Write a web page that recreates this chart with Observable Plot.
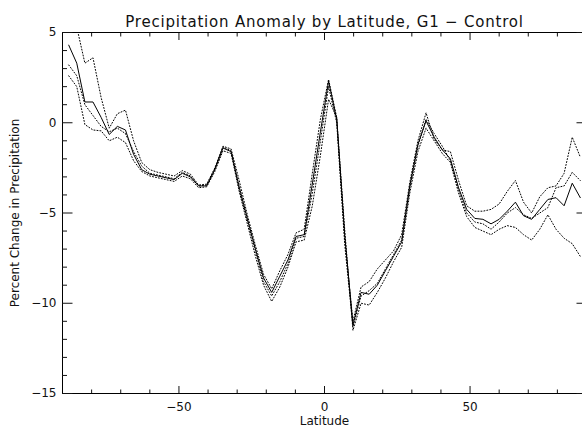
<!DOCTYPE html>
<html><head><meta charset="utf-8">
<script src="https://cdn.jsdelivr.net/npm/d3@7"></script>
<script src="https://cdn.jsdelivr.net/npm/@observablehq/plot@0.6"></script>
<style>
html,body{margin:0;padding:0;background:#fff;overflow:hidden;}
#chart svg{font-family:"DejaVu Sans",sans-serif;}
</style></head><body><div id="chart"></div>
<script>
const latitudes = [-87.86,-85.10,-82.31,-79.53,-76.74,-73.95,-71.16,-68.37,-65.58,-62.79,-60.00,-57.21,-54.42,-51.63,-48.84,-46.05,-43.25,-40.46,-37.67,-34.88,-32.09,-29.30,-26.51,-23.72,-20.93,-18.14,-15.35,-12.56,-9.77,-6.98,-4.19,-1.40,
  1.40,4.19,6.98,9.77,12.56,15.35,18.14,20.93,23.72,26.51,29.30,32.09,34.88,37.67,40.46,43.25,46.05,48.84,51.63,54.42,57.21,60.00,62.79,65.58,68.37,71.16,73.95,76.74,79.53,82.31,85.10,87.86];

const meanChange = [4.3,3.3,1.15,1.15,0.3,-0.65,-0.2,-0.4,-1.75,-2.6,-2.85,-2.95,-3.05,-3.15,-2.8,-3.0,-3.5,-3.5,-2.6,-1.4,-1.6,-3.55,-5.3,-7.0,-8.6,-9.4,-8.5,-7.6,-6.3,-6.2,-3.4,-0.5,
  2.3,0.2,-6.3,-11.2,-9.4,-9.5,-9.0,-8.2,-7.4,-6.6,-3.5,-1.2,0.1,-0.8,-1.5,-2.0,-3.6,-4.8,-5.3,-5.35,-5.6,-5.35,-4.9,-4.4,-5.15,-5.35,-4.8,-4.25,-4.15,-4.6,-3.35,-4.15];

const memberA = [8.0,5.3,3.3,3.6,1.4,-0.3,0.5,0.7,-1.0,-2.2,-2.6,-2.75,-2.85,-2.95,-2.65,-2.85,-3.45,-3.4,-2.5,-1.3,-1.45,-3.2,-5.1,-6.8,-8.4,-9.2,-8.2,-7.3,-6.1,-5.9,-2.8,0.2,
  2.4,0.3,-6.5,-11.0,-9.1,-8.8,-8.1,-7.6,-7.1,-6.2,-3.3,-1.0,0.55,-0.9,-1.5,-1.6,-3.2,-4.6,-4.9,-4.9,-4.8,-4.5,-3.8,-3.2,-4.4,-5.0,-4.1,-3.6,-3.5,-2.8,-0.8,-1.9];

const memberB = [2.6,2.0,-0.1,-0.4,-0.45,-1.0,-0.8,-1.1,-2.1,-2.7,-2.95,-3.05,-3.15,-3.25,-2.95,-3.1,-3.6,-3.55,-2.7,-1.55,-1.7,-3.8,-5.6,-7.4,-9.0,-9.9,-9.1,-8.0,-6.6,-6.5,-4.6,-1.8,
  1.3,0.3,-6.0,-11.5,-10.0,-10.1,-9.4,-8.6,-7.7,-6.9,-3.9,-1.6,-0.3,-1.0,-1.7,-2.2,-3.9,-5.2,-5.8,-6.0,-6.2,-5.9,-5.7,-5.8,-6.2,-6.5,-5.9,-5.1,-5.9,-6.4,-6.7,-7.4];

const memberC = [3.2,2.6,1.0,0.4,-0.2,-0.5,-0.3,-0.6,-1.6,-2.4,-2.8,-2.9,-3.0,-3.1,-2.75,-2.95,-3.5,-3.45,-2.55,-1.35,-1.55,-3.7,-5.4,-7.1,-8.8,-9.6,-8.8,-7.8,-6.4,-6.3,-3.9,-1.0,
  2.0,0.0,-6.8,-11.3,-9.6,-9.3,-8.9,-8.1,-7.3,-6.5,-3.6,-1.3,0.2,-0.6,-1.3,-2.1,-3.7,-5.0,-5.5,-5.6,-5.9,-5.5,-5.0,-4.7,-5.1,-5.3,-5.0,-4.7,-3.6,-3.5,-2.75,-3.2];

const xMajorTicks = [-50, 0, 50];
const xMinorTicks = [-80,-70,-60,-40,-30,-20,-10,10,20,30,40,60,70,80];
const yMajorTicks = [-15,-10,-5,0,5];
const yMinorTicks = [-14,-13,-12,-11,-9,-8,-7,-6,-4,-3,-2,-1,1,2,3,4];
const titleText = "Precipitation Anomaly by Latitude, G1 \u2212 Control";
const xLabel = "Latitude";
const yLabel = "Percent Change in Precipitation";

const toRows = (vals, name) => latitudes.map((lat, i) => ({lat, value: vals[i], series: name}));
const meanRows = toRows(meanChange, "mean");
const memberRows = [...toRows(memberA, "A"), ...toRows(memberB, "B"), ...toRows(memberC, "C")];

const fmt = d => d < 0 ? "\u2212" + Math.abs(d) : String(d);

const chart = Plot.plot({
  width: 582,
  height: 429,
  marginLeft: 62,
  marginRight: -4,
  marginTop: 32,
  marginBottom: 36,
  style: {fontFamily: "DejaVu Sans, sans-serif", fontSize: "12px", color: "#111", background: "#fff"},
  x: {domain: [-90, 90]},
  y: {domain: [-15, 5]},
  marks: [
    Plot.frame({stroke: "#000", strokeWidth: 1}),
    Plot.axisX(xMajorTicks, {anchor: "bottom", tickSize: -7, fill: "none", label: null}),
    Plot.axisX(xMinorTicks, {anchor: "bottom", tickSize: -3.5, fill: "none", label: null}),
    Plot.axisX(xMajorTicks, {anchor: "top", tickSize: -7, fill: "none", label: null}),
    Plot.axisX(xMinorTicks, {anchor: "top", tickSize: -3.5, fill: "none", label: null}),
    Plot.axisY(yMajorTicks, {anchor: "left", tickSize: -10.5, fill: "none", label: null}),
    Plot.axisY(yMinorTicks, {anchor: "left", tickSize: -5, fill: "none", label: null}),
    Plot.axisY(yMajorTicks, {anchor: "right", tickSize: -10.5, fill: "none", label: null}),
    Plot.axisY(yMinorTicks, {anchor: "right", tickSize: -5, fill: "none", label: null}),
    Plot.axisX(xMajorTicks, {anchor: "bottom", tickSize: 0, tickPadding: 9, tickFormat: fmt, fontSize: 12,
      label: xLabel, labelAnchor: "center", labelArrow: "none", labelOffset: 31}),
    Plot.axisY(yMajorTicks, {anchor: "left", tickSize: 0, tickPadding: 6, tickFormat: fmt, fontSize: 12,
      label: yLabel, labelAnchor: "center", labelArrow: "none", labelOffset: 52}),
    Plot.lineY(memberRows, {x: "lat", y: "value", z: "series", stroke: "#000", strokeWidth: 1,
      strokeDasharray: "1,2", clip: true}),
    Plot.lineY(meanRows, {x: "lat", y: "value", stroke: "#000", strokeWidth: 1, clip: true}),
    Plot.text([titleText], {frameAnchor: "top", dy: -16, fontSize: 15, fill: "#111",
      style: "letter-spacing:0.8px"})
  ]
});
// widen title spacing to match the reference's wide stroke font
d3.select(chart).selectAll("text").filter(function() { return this.textContent === titleText; })
  .style("letter-spacing", "0.8px");
document.getElementById("chart").appendChild(chart);
</script>
</body></html>
